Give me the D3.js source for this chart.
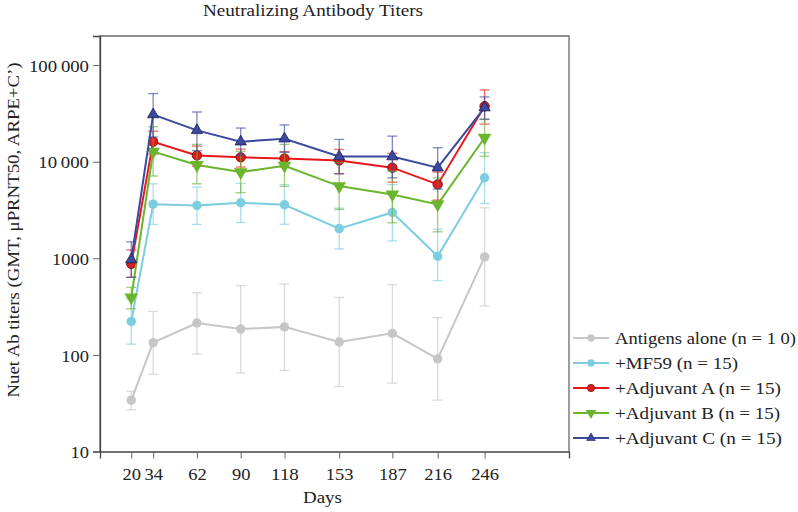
<!DOCTYPE html>
<html><head><meta charset="utf-8">
<script src="https://cdn.jsdelivr.net/npm/d3@7"></script>
<style>
body{margin:0;background:#fff;}
text{font-family:"Liberation Serif","Times New Roman",serif;fill:#222;}
</style></head>
<body><svg id="c" width="798" height="512"></svg>
<script>
const days = [20,34,62,90,118,153,187,216,246];
const yTicks = [10,100,1000,10000,100000];
const seriesNames = ["Antigens alone (n = 1 0)","+MF59 (n = 15)","+Adjuvant A (n = 15)","+Adjuvant B (n = 15)","+Adjuvant C (n = 15)"];

const antigensVal = [34,134,214,185,195,136,167,91,1033];
const antigensHi  = [42,282,440,521,542,393,533,243,3335];
const antigensLo  = [27,63,102,65,69,47,51,34,321];

const mf59Val = [222,3630,3520,3760,3580,2030,2980,1050,6820];
const mf59Hi  = [380,5900,5450,5960,5800,3300,5800,2000,12400];
const mf59Lo  = [129,2240,2240,2345,2250,1250,1513,588,3690];

const adjAVal = [875,16100,11600,11100,10800,10300,8670,5820,37500];
const adjAHi  = [1222,20700,14500,13500,12700,13400,12200,7800,55300];
const adjALo  = [635,12000,9000,8800,8800,7520,6140,4000,24500];

const adjBVal = [393,12700,9230,7800,9080,5590,4580,3610,17700];
const adjBHi  = [500,23000,15100,12800,15100,9800,8000,6800,27500];
const adjBLo  = [300,7100,5900,4770,5550,3200,2330,1880,11400];

const adjCVal = [970,30800,21100,16100,17300,11300,11300,8670,36300];
const adjCHi  = [1480,50700,32700,22300,24000,17000,18400,13950,46800];
const adjCLo  = [635,18000,13000,11700,12500,7500,6800,5200,27500];

const series = [
  {name:seriesNames[0], val:antigensVal, hi:antigensHi, lo:antigensLo, color:"#c9c5c5", shape:"circle", stroke:"none"},
  {name:seriesNames[1], val:mf59Val, hi:mf59Hi, lo:mf59Lo, color:"#7ccde0", shape:"circle", stroke:"none"},
  {name:seriesNames[2], val:adjAVal, hi:adjAHi, lo:adjALo, color:"#e8171c", shape:"circle", stroke:"#5a1010"},
  {name:seriesNames[3], val:adjBVal, hi:adjBHi, lo:adjBLo, color:"#6bb42e", shape:"down", stroke:"none"},
  {name:seriesNames[4], val:adjCVal, hi:adjCHi, lo:adjCLo, color:"#3b4a9e", shape:"up", stroke:"#1a2050"}
];

const svg = d3.select("#c");
const L=100, R=569, T=36, B=451.5;
const x = d3.scaleLinear().domain([0,300]).range([L,R]);
const y = d3.scaleLog().domain([10,200000]).range([B,T]);

// approximate glyph width of the original serif face, used to fit text widths
const charW = s => { let w=0; for (const c of s){ w += c===" "?4.6 : c==="\u2009"?4.5 : 9.25; } return w; };

// frame
svg.append("path").attr("d",`M${L},${B}V${T}H${R}V${B}`).attr("fill","none").attr("stroke","#6a6a6a").attr("stroke-width",1.3);

const fmt = v => v>=10000 ? d3.format(",")(v).replace(/,/g,"\u2009") : String(v);
const ya = svg.append("g").attr("transform",`translate(${L},0)`)
  .call(d3.axisLeft(y).tickValues(yTicks).tickFormat(fmt).tickSize(7).tickPadding(4));
const xa = svg.append("g").attr("transform",`translate(0,${B})`)
  .call(d3.axisBottom(x).tickValues(days).tickFormat(d3.format("d")).tickSize(7).tickPadding(8));
[ya,xa].forEach(a=>{
  a.select(".domain").attr("stroke","#444").attr("stroke-width",1.3);
  a.selectAll(".tick line").attr("stroke","#666");
  a.selectAll("text").style("font-family","Liberation Serif, serif").style("font-size","17px").attr("fill","#222")
    .attr("textLength",function(){return charW(this.textContent);}).attr("lengthAdjust","spacingAndGlyphs");
});
ya.selectAll("text").attr("dy","0.36em");
xa.selectAll("text").attr("dy",null).attr("y",28);

const shapeSym = {circle:d3.symbolCircle, up:d3.symbolTriangle, down:d3.symbolTriangle};
const shapeSize = {circle:70, up:55, down:80};

const line = d3.line().x((d,i)=>x(days[i])).y(d=>y(d));
series.forEach(s=>{
  const g = svg.append("g");
  days.forEach((d,i)=>{
    const cx = x(d);
    const eb = g.append("g").attr("stroke",s.color).attr("stroke-opacity",0.65).attr("stroke-width",1.3);
    eb.append("line").attr("x1",cx).attr("x2",cx).attr("y1",y(s.lo[i])).attr("y2",y(s.hi[i]));
    eb.append("line").attr("x1",cx-5).attr("x2",cx+5).attr("y1",y(s.lo[i])).attr("y2",y(s.lo[i]));
    eb.append("line").attr("x1",cx-5).attr("x2",cx+5).attr("y1",y(s.hi[i])).attr("y2",y(s.hi[i]));
  });
  g.append("path").datum(s.val).attr("d",line).attr("fill","none").attr("stroke",s.color).attr("stroke-width",2);
  g.selectAll(".m").data(s.val).enter().append("path")
    .attr("d",d3.symbol().type(shapeSym[s.shape]).size(shapeSize[s.shape]))
    .attr("transform",(d,i)=>`translate(${x(days[i])},${y(d)})${s.shape==="down"?" rotate(180)":""}`)
    .attr("fill",s.color).attr("stroke",s.stroke).attr("stroke-width",0.8);
});

// legend
const legendW = [181,123,166,165,167];
const ly0 = 338, ldy = 25;
series.forEach((s,i)=>{
  const ly = ly0 + i*ldy;
  svg.append("line").attr("x1",573).attr("x2",609).attr("y1",ly).attr("y2",ly).attr("stroke",s.color).attr("stroke-width",2);
  svg.append("path").attr("d",d3.symbol().type(shapeSym[s.shape]).size(shapeSize[s.shape]*0.6)())
    .attr("transform",`translate(591,${ly})${s.shape==="down"?" rotate(180)":""}`)
    .attr("fill",s.color).attr("stroke",s.stroke).attr("stroke-width",0.6);
  svg.append("text").attr("x",615).attr("y",ly+5.5).style("font-size","17px")
    .attr("textLength",legendW[i]).attr("lengthAdjust","spacingAndGlyphs").text(s.name);
});

// titles
svg.append("text").attr("x",313).attr("y",16).attr("text-anchor","middle").style("font-size","16.5px")
  .attr("textLength",220).attr("lengthAdjust","spacingAndGlyphs").text("Neutralizing Antibody Titers");
svg.append("text").attr("x",322.5).attr("y",503).attr("text-anchor","middle").style("font-size","17px")
  .attr("textLength",39).attr("lengthAdjust","spacingAndGlyphs").text("Days");
svg.append("text").attr("transform","translate(19,230) rotate(-90)").attr("text-anchor","middle").style("font-size","17px")
  .attr("textLength",335).attr("lengthAdjust","spacingAndGlyphs").text("Nuet Ab titers (GMT, \u03bcPRNT50, ARPE+C\u2019)");
</script></body></html>
